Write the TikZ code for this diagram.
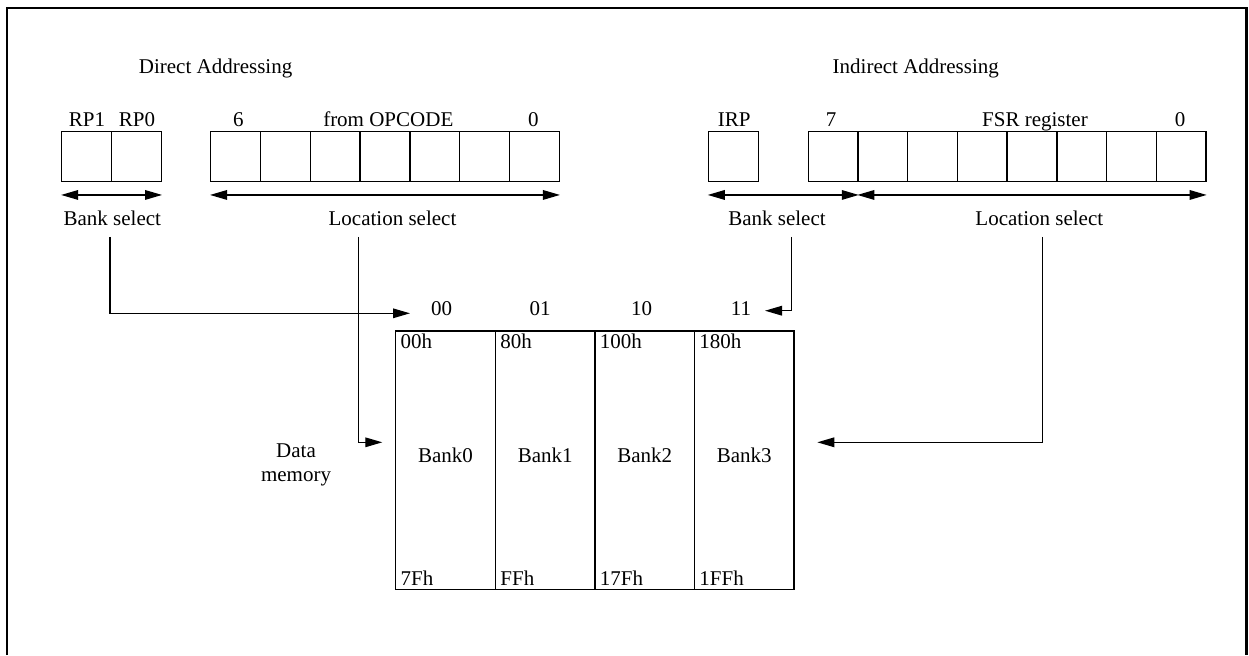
\documentclass[tikz,border=0pt]{standalone}
\usepackage{fontspec}
\setmainfont{Liberation Serif}
\usetikzlibrary{arrows.meta}

\begin{document}
\begin{tikzpicture}[x=0.5pt,y=-0.5pt,
  font=\fontsize{10.5}{11.7}\selectfont,line width=0.65pt,
  >={Triangle[length=8.5pt,width=4.8pt]},
  bit/.style={draw,minimum width=24.9pt,minimum height=25pt,inner sep=0pt},
  bank/.style={draw,minimum width=49.8pt,minimum height=129.2pt,inner sep=0pt,text depth=5.4pt},
  txt/.style={anchor=base,inner sep=0pt},
  addr/.style={anchor=base west,inner sep=0pt}]
  \useasboundingbox (0,0) rectangle (1249,655);
  \draw[line width=1.2pt] (7,655) -- (7,8) -- (1246.5,8) -- (1246.5,655);

  % direct addressing
  \node[txt] (dir) at (215.6,73) {Direct Addressing};
  \node[bit] (rp1) at (86.7,156.7) {};
  \node[bit] (rp0) at (136.5,156.7) {};
  \foreach \b [count=\i from 0] in {6,...,0}
    \node[bit] (op\b) at ({235.6+49.8*\i},156.7) {};
  \node[txt] (lrp1) at (87,126) {RP1};
  \node[txt] (lrp0) at (137,126) {RP0};
  \node[txt] (lop6) at (238.3,126) {6};
  \node[txt] (lop) at (388.3,126) {from OPCODE};
  \node[txt] (lop0) at (533.3,126) {0};
  \draw[<->] ([yshift=-6.3pt]rp1.south west) -- ([yshift=-6.3pt]rp0.south east);
  \draw[<->] ([yshift=-6.3pt]op6.south west) -- ([yshift=-6.3pt]op0.south east);
  \node[txt] (bsd) at (112.3,225) {Bank select};
  \node[txt] (lsd) at (392.5,225) {Location select};

  % indirect addressing
  \node[txt] (ind) at (915.8,73.5) {Indirect Addressing};
  \node[bit] (irp) at (733.3,156.7) {};
  \foreach \b [count=\i from 0] in {7,...,0}
    \node[bit] (fsr\b) at ({833.2+49.7*\i},156.7) {};
  \node[txt] (lirp) at (734.3,126) {IRP};
  \node[txt] (lfsr7) at (831,126) {7};
  \node[txt] (lfsr) at (1035,126) {FSR register};
  \node[txt] (lfsr0) at (1180,126) {0};
  \draw[<->] ([yshift=-6.3pt]irp.south west) -- ([yshift=-6.3pt]fsr7.south east);
  \draw[<->] ([yshift=-6.3pt]fsr6.south west) -- ([yshift=-6.3pt]fsr0.south east);
  \node[txt] (bsi) at (777,225) {Bank select};
  \node[txt] (lsi) at (1039.3,225) {Location select};

  % data memory
  \foreach \n/\x in {0/445.5,1/545.2,2/644.7,3/744.2}
    \node[bank] (bank\n) at (\x,460.2) {Bank\n};
  \foreach \n/\lo/\hi in {0/00h/7Fh,1/80h/FFh,2/100h/17Fh,3/180h/1FFh} {
    \node[addr] (lo\n) at ([xshift=2.5pt,yshift=-9pt]bank\n.north west) {\lo};
    \node[addr] (hi\n) at ([xshift=2.5pt,yshift=2.5pt]bank\n.south west) {\hi};
  }
  \node[txt] (s00) at (441.7,315.7) {00};
  \node[txt] (s01) at (540,315.7) {01};
  \node[txt] (s10) at (641.7,315.7) {10};
  \node[txt] (s11) at (741,315.7) {11};
  \node[align=center,inner sep=0pt] (dmem) at (296,465) {Data\\memory};

  \coordinate (t00) at (410,313.3);
  \coordinate (t11) at (765,310.7);
  \coordinate (tdat) at (382.3,442.3);
  \coordinate (tmem) at (817.3,442.3);
  \draw[->,shorten <=5.5pt] ([xshift=-1.2pt]bsd.south) |- (t00);
  \draw[->,shorten <=5.5pt] ([xshift=-16.9pt]lsd.south) |- (tdat);
  \draw[->,shorten <=5.5pt] ([xshift=7.35pt]bsi.south) |- (t11);
  \draw[->,shorten <=5.5pt] ([xshift=1.7pt]lsi.south) |- (tmem);
\end{tikzpicture}
\end{document}
